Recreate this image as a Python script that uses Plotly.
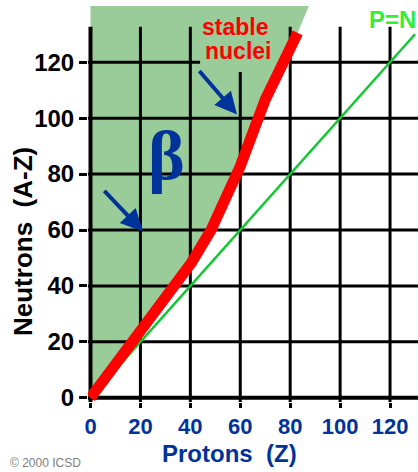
import plotly.graph_objects as go

# Centre line of the band of stable nuclei (protons Z, neutrons N = A - Z)
band_z = [0, 5, 10.8, 20.6, 30.8, 40.5, 48.3, 60, 70, 76.5, 83]
band_n = [0, 6, 12.6, 24.4, 36.3, 48.4, 60, 82.8, 106.6, 118.5, 130.5]

# Reference line where protons equal neutrons
pn_z = [0, 130]
pn_n = [0, 130]

x_ticks = [0, 20, 40, 60, 80, 100, 120]
y_ticks = [0, 20, 40, 60, 80, 100, 120]

X_RANGE = [-1.0, 131.2]
Y_RANGE = [-1.5, 140.1]
GRID_TOP = 132.7
BETA_EDGE = (87.9, 141.0)      # neutron-rich region meets the top edge
LABEL_BOX = (43.9, 76.0, 116.5, 141.0)  # x0, x1, y0, y1 behind "stable nuclei"

GREEN_FILL = "#99CC99"
BLUE = "#003399"
RED = "#FF0000"
PN_GREEN = "#11C833"
PN_TEXT = "#33EE33"
SANS = "Liberation Sans, Arial, sans-serif"

W, H = 418, 472
ML, MR, MT, MB = 88, 0, 6, 70
PW, PH = W - ML - MR, H - MT - MB


def px(xp, yp):
    """Pixel position on the page -> paper coordinates."""
    return (xp - ML) / PW, (H - MB - yp) / PH


shapes = []

# beta-unstable (neutron-rich) region: left of the stable band
path = "M 0,0 " + " ".join(f"L {z},{n}" for z, n in zip(band_z, band_n))
path += f" L {BETA_EDGE[0]},{BETA_EDGE[1]} L 0,{BETA_EDGE[1]} Z"
shapes.append(dict(type="path", path=path, xref="x", yref="y",
                   fillcolor=GREEN_FILL, line=dict(width=0), layer="below"))

# grid
for v in x_ticks[1:]:
    shapes.append(dict(type="line", xref="x", yref="y", x0=v, x1=v,
                       y0=Y_RANGE[0], y1=GRID_TOP,
                       line=dict(color="black", width=3), layer="below"))
for v in y_ticks[1:]:
    shapes.append(dict(type="line", xref="x", yref="y", x0=X_RANGE[0], x1=X_RANGE[1],
                       y0=v, y1=v, line=dict(color="black", width=3), layer="below"))

# axes
shapes.append(dict(type="line", xref="x", yref="y", x0=0, x1=0, y0=Y_RANGE[0], y1=GRID_TOP,
                   line=dict(color="black", width=4), layer="below"))
shapes.append(dict(type="line", xref="x", yref="y", x0=X_RANGE[0], x1=X_RANGE[1], y0=0, y1=0,
                   line=dict(color="black", width=4), layer="below"))

# background of the band label
shapes.append(dict(type="rect", xref="x", yref="y",
                   x0=LABEL_BOX[0], x1=LABEL_BOX[1], y0=LABEL_BOX[2], y1=LABEL_BOX[3],
                   fillcolor=GREEN_FILL, line=dict(width=0), layer="below"))

fig = go.Figure()
fig.add_trace(go.Scatter(x=pn_z, y=pn_n, mode="lines",
                         line=dict(color=PN_GREEN, width=2.5), hoverinfo="skip"))
fig.add_trace(go.Scatter(x=band_z, y=band_n, mode="lines",
                         line=dict(color=RED, width=11), hoverinfo="skip"))

annotations = [
    dict(x=57.9, y=132.6, xref="x", yref="y", text="stable", showarrow=False,
         font=dict(family=SANS, size=23, color=RED, weight="bold")),
    dict(x=58.9, y=124.0, xref="x", yref="y", text="nuclei", showarrow=False,
         font=dict(family=SANS, size=23, color=RED, weight="bold")),
    dict(x=30.5, y=86.6, xref="x", yref="y", text="β", showarrow=False,
         font=dict(family="Liberation Serif, Times New Roman, serif", size=70,
                   color=BLUE, weight="bold")),
    dict(x=21.0, y=59.5, xref="x", yref="y", text="", showarrow=True,
         ax=-40, ay=-42, arrowhead=2, arrowsize=1.1, arrowwidth=4, arrowcolor=BLUE),
    dict(x=58.7, y=101.3, xref="x", yref="y", text="", showarrow=True,
         ax=-39, ay=-45, arrowhead=2, arrowsize=1.1, arrowwidth=4, arrowcolor=BLUE),
    dict(x=X_RANGE[1], y=135.4, xref="x", yref="y", text="P=N", showarrow=False,
         xanchor="right", font=dict(family=SANS, size=24, color=PN_TEXT, weight="bold")),
]

xt, yt = px(229, 453)
annotations.append(dict(x=xt, y=yt, xref="paper", yref="paper", text="Protons\u00a0 (Z)",
                        showarrow=False, xanchor="center", yanchor="middle",
                        font=dict(family=SANS, size=24, color=BLUE, weight="bold")))
xt, yt = px(23, 242)
annotations.append(dict(x=xt, y=yt, xref="paper", yref="paper", text="Neutrons\u00a0 (A-Z)",
                        showarrow=False, textangle=-90, xanchor="center", yanchor="middle",
                        font=dict(family=SANS, size=26, color="black", weight="bold")))
xt, yt = px(8, 463)
annotations.append(dict(x=xt, y=yt, xref="paper", yref="paper", text="© 2000 ICSD",
                        showarrow=False, xanchor="left", yanchor="middle",
                        font=dict(family=SANS, size=12, color="#808080")))

fig.update_layout(
    width=W, height=H,
    margin=dict(l=ML, r=MR, t=MT, b=MB, pad=0),
    paper_bgcolor="white", plot_bgcolor="white",
    showlegend=False,
    shapes=shapes,
    annotations=annotations,
    xaxis=dict(range=X_RANGE, tickvals=x_ticks, ticktext=[str(v) for v in x_ticks],
               ticks="outside", ticklen=5, tickwidth=3, tickcolor="black",
               showgrid=False, zeroline=False, showline=False,
               tickfont=dict(family=SANS, size=22, color=BLUE, weight="bold")),
    yaxis=dict(range=Y_RANGE, tickvals=y_ticks, ticktext=[str(v) for v in y_ticks],
               ticks="outside", ticklen=8, tickwidth=3, tickcolor="black",
               showgrid=False, zeroline=False, showline=False,
               tickfont=dict(family=SANS, size=24, color="black", weight="bold")),
)

fig.write_html("out.html")
